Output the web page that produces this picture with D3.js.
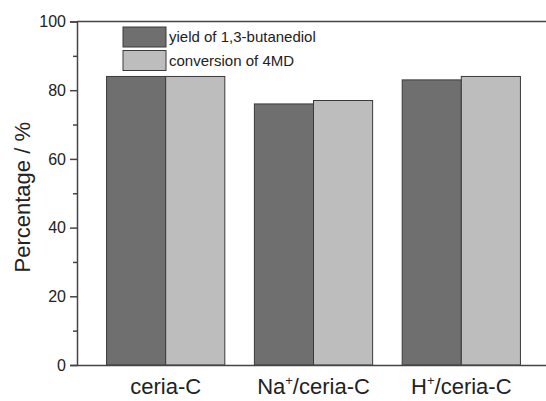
<!DOCTYPE html>
<html>
<head>
<meta charset="utf-8">
<script src="https://cdn.jsdelivr.net/npm/d3@7/dist/d3.min.js"></script>
<style>
  html, body { margin: 0; padding: 0; background: #fff; }
  svg { display: block; font-family: "Liberation Sans", Arial, sans-serif; }
</style>
</head>
<body>
<svg id="chart" width="546" height="401"></svg>
<script>
const categories = ["ceria-C", "Na+/ceria-C", "H+/ceria-C"];
const seriesNames = ["yield of 1,3-butanediol", "conversion of 4MD"];
const yieldValues = [84, 76, 83];
const conversionValues = [84, 77, 84];
const yTicks = [0, 20, 40, 60, 80, 100];
const yMinorTicks = [10, 30, 50, 70, 90];
const colors = ["#6f6f6f", "#bdbdbd"];

(function () {
const svg = d3.select("#chart");
const pLeft = 77, pRight = 550, pTop = 21.5, pBottom = 365;

const x = d3.scaleBand().domain(categories).range([pLeft, pRight]).padding(0.2);
const xs = d3.scaleBand().domain(seriesNames).range([0, x.bandwidth()]);
const y = d3.scaleLinear().domain([0, 100]).range([pBottom, pTop]);

const data = categories.map((c, i) => ({ cat: c, vals: [yieldValues[i], conversionValues[i]] }));

// bars
const g = svg.append("g");
data.forEach(d => {
  d.vals.forEach((v, j) => {
    g.append("rect")
      .attr("x", x(d.cat) + xs(seriesNames[j]))
      .attr("y", y(v))
      .attr("width", xs.bandwidth())
      .attr("height", y(0) - y(v))
      .attr("fill", colors[j])
      .attr("stroke", "#3a3a3a")
      .attr("stroke-width", 1);
  });
});

// frame
svg.append("line").attr("x1", pLeft).attr("x2", pRight).attr("y1", pTop).attr("y2", pTop)
  .attr("stroke", "#444").attr("stroke-width", 1.5);
svg.append("line").attr("x1", pRight).attr("x2", pRight).attr("y1", pTop).attr("y2", pBottom)
  .attr("stroke", "#444").attr("stroke-width", 1.5);

// y axis
const yAxis = d3.axisLeft(y).tickValues(yTicks).tickSize(7).tickPadding(4).tickFormat(d3.format("d"));
const ya = svg.append("g").attr("transform", `translate(${pLeft},0)`).call(yAxis);
ya.select(".domain").attr("stroke", "#444").attr("stroke-width", 1.5);
ya.selectAll(".tick line").attr("stroke", "#444").attr("stroke-width", 1.5);
ya.selectAll(".tick text").attr("font-size", 16).attr("fill", "#222")
  .attr("font-family", "Liberation Sans, Arial, sans-serif");
const yMinor = d3.axisLeft(y).tickValues(yMinorTicks).tickSize(4).tickFormat("");
const ym = svg.append("g").attr("transform", `translate(${pLeft},0)`).call(yMinor);
ym.select(".domain").remove();
ym.selectAll(".tick line").attr("stroke", "#444").attr("stroke-width", 1.5);

// x axis
const xAxis = d3.axisBottom(x).tickSize(0).tickFormat("");
const xa = svg.append("g").attr("transform", `translate(0,${pBottom})`).call(xAxis);
xa.select(".domain").attr("stroke", "#444").attr("stroke-width", 1.5);

// x labels with superscripts
categories.forEach(c => {
  const t = svg.append("text")
    .attr("x", x(c) + x.bandwidth() / 2)
    .attr("y", 394)
    .attr("text-anchor", "middle")
    .attr("font-size", 22)
    .attr("fill", "#222");
  const m = c.match(/^(\w+)\+(.*)$/);
  if (m) {
    t.append("tspan").text(m[1]);
    t.append("tspan").text("+").attr("font-size", 13).attr("dy", -9);
    t.append("tspan").text(m[2]).attr("dy", 9);
  } else {
    t.text(c);
  }
});

// y label
svg.append("text")
  .attr("transform", `translate(30,${(pTop + pBottom) / 2 + 4}) rotate(-90)`)
  .attr("text-anchor", "middle")
  .attr("font-size", 22)
  .attr("fill", "#222")
  .text("Percentage / %");

// legend
const lg = svg.append("g");
seriesNames.forEach((s, i) => {
  const yy = 27 + i * 23.5;
  lg.append("rect").attr("x", 123).attr("y", yy).attr("width", 43).attr("height", 20)
    .attr("fill", colors[i]).attr("stroke", "#3a3a3a").attr("stroke-width", 1);
  lg.append("text").attr("x", 169).attr("y", yy + 15).attr("font-size", 15)
    .attr("fill", "#222").text(s);
});
})();
</script>
</body>
</html>
